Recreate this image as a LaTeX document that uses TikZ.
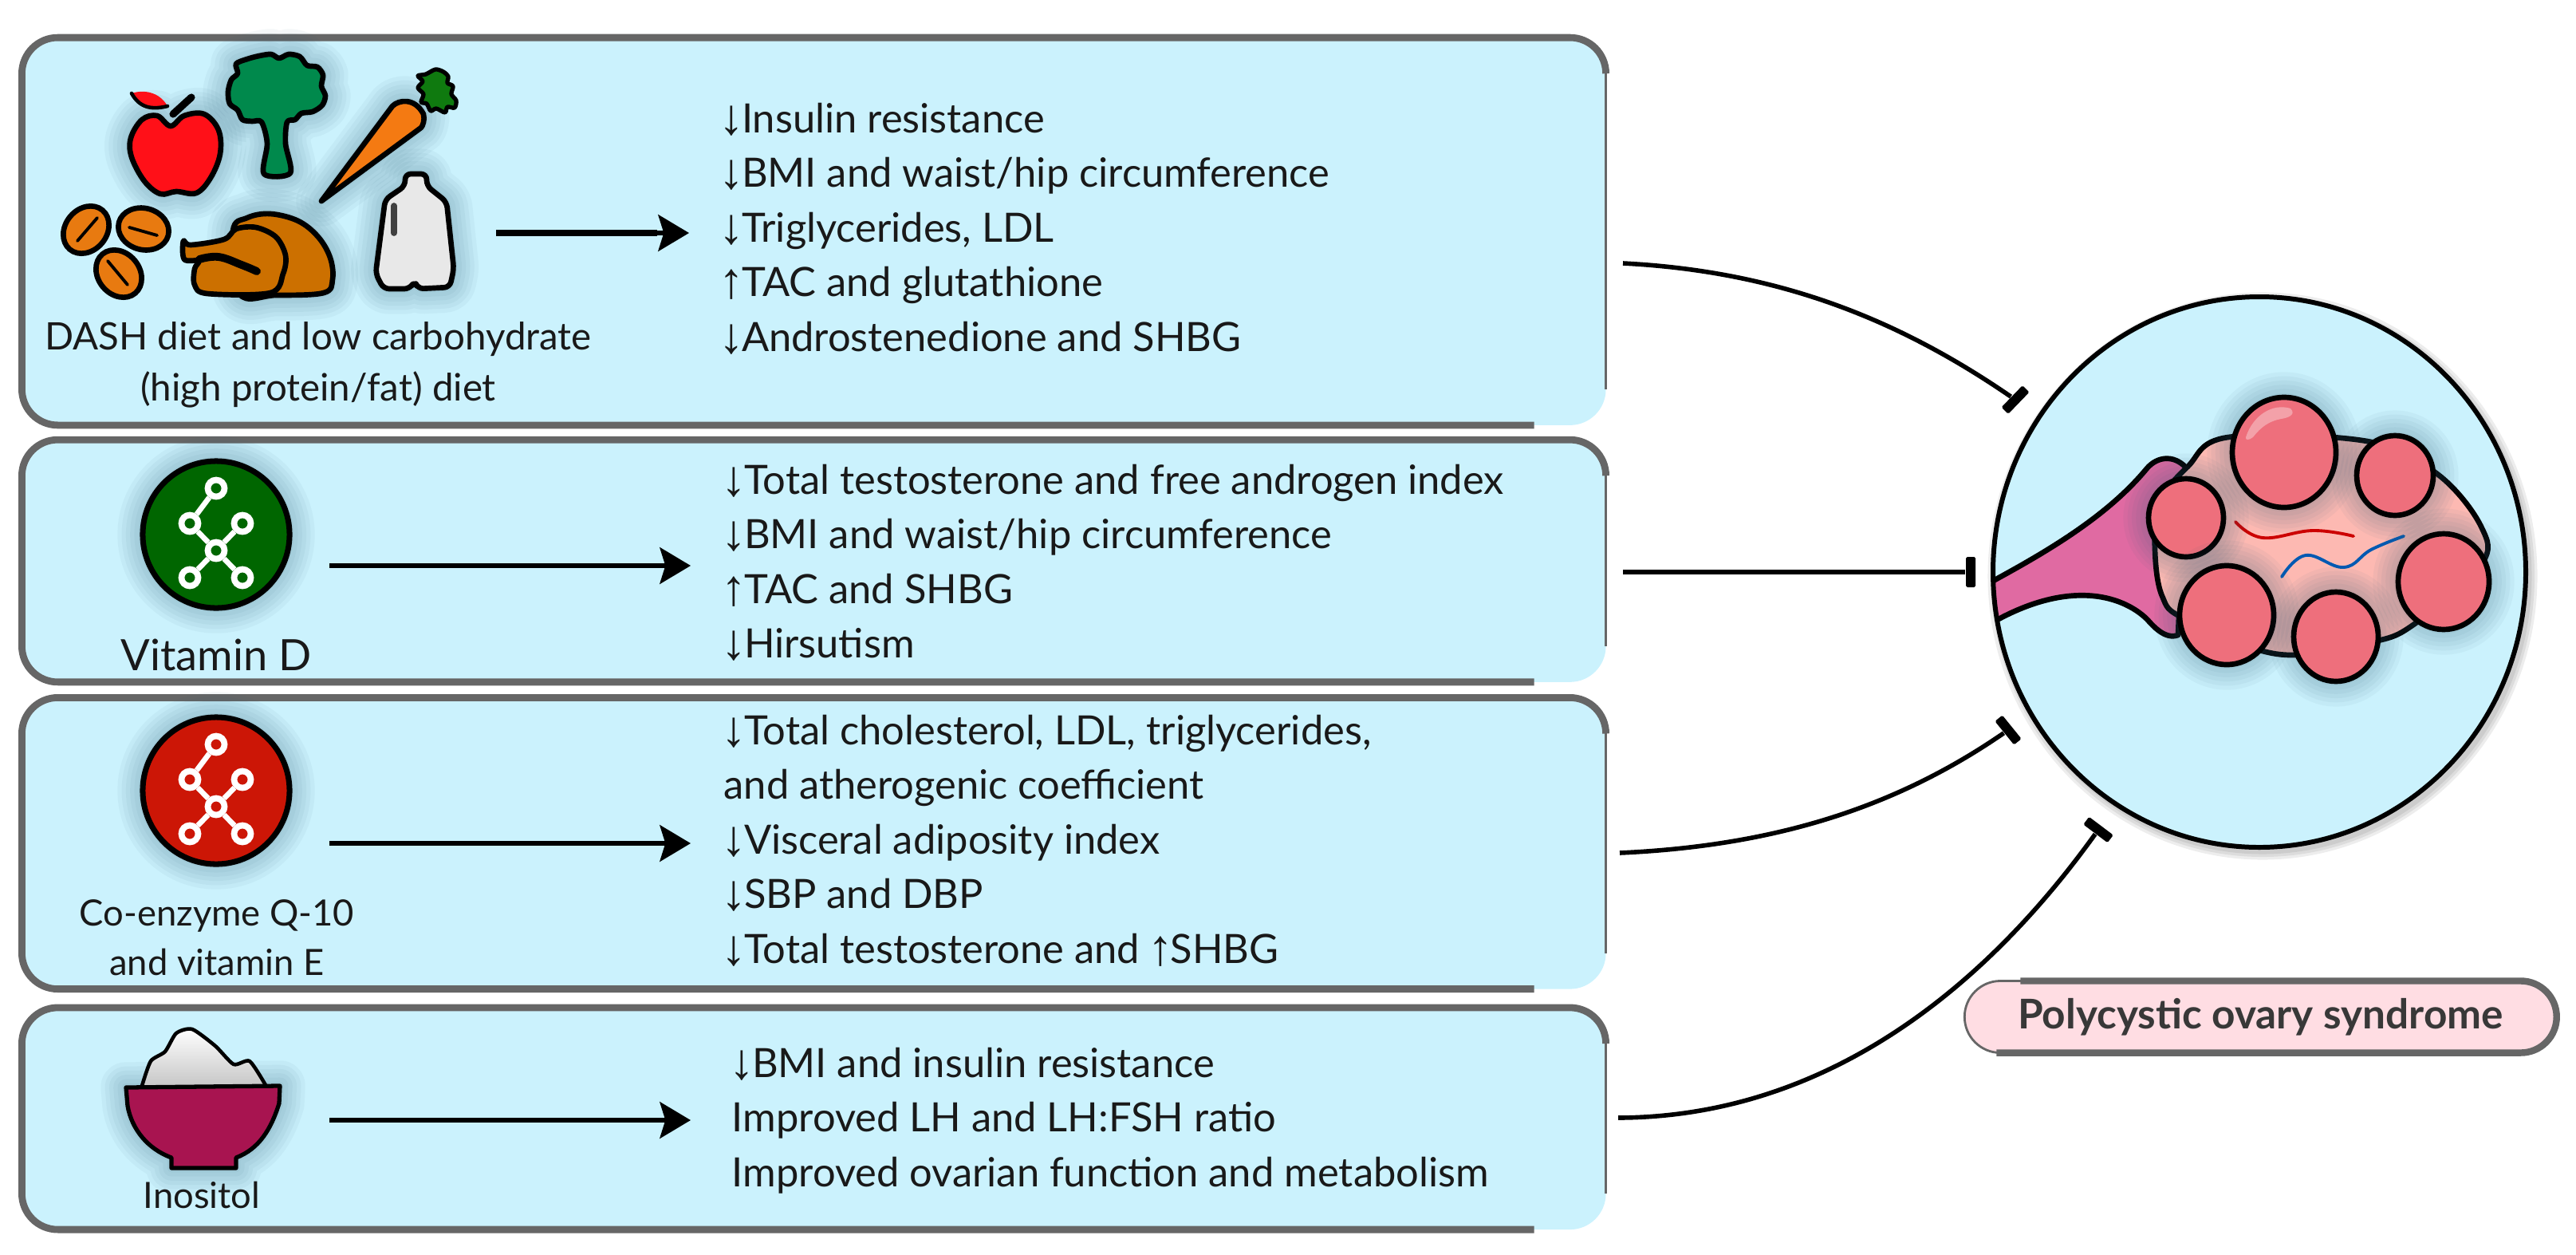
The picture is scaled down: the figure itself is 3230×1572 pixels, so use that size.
\documentclass[tikz,border=0pt]{standalone}
\usepackage{fontspec}
\setmainfont{Lato}
\newfontfamily\arrowfont{Liberation Sans}
\usetikzlibrary{arrows.meta,calc}

\definecolor{panelblue}{HTML}{CBF2FD}
\definecolor{rimgray}{HTML}{666666}
\definecolor{glowcol}{HTML}{2F5F78}
\definecolor{vitgreen}{HTML}{006600}
\definecolor{coqred}{HTML}{CC1606}
\definecolor{folcol}{HTML}{EE6F7C}
\definecolor{bodycol}{HTML}{FDB9B2}
\definecolor{stalkcol}{HTML}{E06AA2}
\definecolor{bowlcol}{HTML}{A81450}
\definecolor{pillcol}{HTML}{FFDDE3}
\definecolor{applecol}{HTML}{FF1018}
\definecolor{broccol}{HTML}{00894C}
\definecolor{leafcol}{HTML}{0F7A0F}
\definecolor{carrotcol}{HTML}{F47A12}
\definecolor{nutcol}{HTML}{E87A10}
\definecolor{turkeycol}{HTML}{CC7000}

\newcommand{\arrsym}[1]{\makebox[7.2pt][c]{\smash{\raisebox{-.6pt}{\fontsize{18pt}{18pt}\arrowfont #1}}}}
\newcommand{\arrdn}{\arrsym{↓}}
\newcommand{\arrup}{\arrsym{↑}}
\newcommand{\glow}[1]{\foreach \w in {3,6,...,18}{\path[draw=glowcol, line width=\w pt, opacity=.05, line join=round] #1;}}

\newcommand{\applepath}{plot[smooth cycle, tension=.6] coordinates {(214,158) (231,145) (256,143) (274,163) (276,193) (264,223) (246,242) (221,240) (201,243) (181,227) (165,197) (164,173) (178,150) (197,145)}}
\newcommand{\brocpath}{plot[smooth cycle, tension=.5] coordinates {(325,70) (340,68) (350,73) (362,68) (376,71) (385,82) (398,84) (405,94) (403,108) (408,120) (404,132) (392,140) (378,142) (370,150) (360,153) (358,180) (364,217) (331,218) (335,180) (328,153) (316,152) (304,150) (298,138) (288,130) (286,115) (290,100) (298,92) (296,80) (310,74)}}
\newcommand{\carrotpath}{(403,252) -- (492,133) .. controls (500,125) and (520,122) .. (531,143) .. controls (533,150) and (530,158) .. (528,160) -- cycle}
\newcommand{\turkeypath}{plot[smooth cycle, tension=.6] coordinates {(292,290) (310,273) (339,268) (374,277) (399,297) (414,323) (417,350) (406,367) (346,370) (300,368)}}
\newcommand{\milkpath}{[rounded corners=.07cm] (508,218) -- (535,218) -- (535,233) -- (560,253) -- (569,337) -- (564,360) -- (524,362) -- (520,352) -- (514,362) -- (481,362) -- (471,343) -- (483,250) -- (508,233) -- cycle}
\newcommand{\bowlpath}{(158,1363) -- (351,1361) -- (350,1383) .. controls (340,1415) and (325,1440) .. (296,1451) -- (296,1464) -- (215,1464) -- (215,1451) .. controls (185,1440) and (165,1415) .. (160,1386) -- cycle}

\tikzset{
  panel/.style={rectangle, fill=panelblue, rounded corners=.45cm, inner sep=0, outer sep=0, minimum width=19.85cm},
  rim/.style={draw=rimgray, line width=2.5pt, rounded corners=.45cm},
  rimthin/.style={draw=rimgray, line width=.8pt},
  icon/.style={draw=black, line width=1.9pt, line join=round, line cap=round},
  vessel/.style={line width=1.1pt, line cap=round},
  feed/.style={line width=1.5pt, -{Stealth[length=11pt, width=13pt, inset=2pt]}},
  block/.style={line width=1.6pt},
  blockbar/.style={rectangle, fill=black, rounded corners=.5pt, inner sep=0, minimum width=.12cm, minimum height=.38cm},
  effects/.style={anchor=north west, inner sep=0, align=left, font=\fontsize{14.4pt}{19.5pt}\selectfont, text=black!90},
  source/.style={inner sep=0, align=center, text=black!90},
  molecule/.style={circle, draw=black, line width=2pt, minimum size=1.84cm, inner sep=0},
  atom/.style={circle, draw=white, line width=2.2pt, minimum size=.21cm, inner sep=0},
}

\begin{document}
\begin{tikzpicture}[x=.01cm, y=-.01cm]
  \useasboundingbox (0,0) rectangle (3230,1572);

  % panels
  \foreach \nm/\cy/\hgt in {diet/290/4.855, vitd/703/3.035, coq/1057/3.65, ino/1402/2.78}{
    \node[panel, minimum height=\hgt cm] (\nm) at (1020.5,\cy) {};
    \draw[rim] ([xshift=-.9cm]\nm.south east) -- (\nm.south west) -- (\nm.north west)
      -- (\nm.north east) -- ([yshift=-.45cm]\nm.north east);
    \draw[rimthin] ([yshift=-.45cm]\nm.north east) -- ([yshift=.45cm]\nm.south east);
  }

  % food icons
  \glow{\applepath}
  \glow{\brocpath}
  \glow{\carrotpath}
  \glow{\turkeypath}
  \glow{\milkpath}
  \draw[icon, line width=2.6pt] (217,143) -- (240,122);
  \path[fill=applecol] (165,117) .. controls (180,112) and (200,115) .. (210,133) .. controls (190,138) and (175,135) .. (165,117) -- cycle;
  \draw[icon, line width=1.3pt] (165,117) .. controls (175,135) and (190,138) .. (210,133);
  \draw[icon, fill=applecol] \applepath;
  \draw[icon, fill=broccol] \brocpath;
  \draw[icon, fill=leafcol, line width=1.5pt] plot[smooth cycle, tension=.5] coordinates {(546,87) (556,90) (562,96) (561,104) (568,108) (566,118) (572,126) (570,135) (561,134) (558,141) (547,136) (540,139) (535,130) (528,128) (531,118) (524,110) (530,102) (524,95) (534,93)};
  \draw[icon, fill=carrotcol] \carrotpath;
  \foreach \cx/\cy/\ang/\xa/\ya/\xb/\yb in {108/288/50/97/302/122/273, 180/287/-15/162/285/197/295, 149/343/-50/135/327/160/357}{
    \draw[icon, fill=nutcol, rotate around={\ang:(\cx,\cy)}] (\cx,\cy) ellipse [x radius=32, y radius=26];
    \draw[icon, line width=1.1pt] (\xa,\ya) -- (\xb,\yb);
  }
  \draw[icon, fill=turkeycol] \turkeypath;
  \draw[icon, fill=turkeycol] plot[smooth cycle, tension=.55] coordinates {(230,302) (239,307) (281,300) (296,287) (321,285) (346,297) (358,320) (355,343) (339,367) (260,368) (244,357) (244,337) (249,327) (231,325)};
  \draw[icon, line width=2.8pt] plot[smooth, tension=.7] coordinates {(250,325) (274,322) (303,332) (322,340)};
  \draw[icon, fill=black!9] \milkpath;
  \draw[line width=2.2pt, draw=black!75, line cap=round] (494,258) -- (494,292);

  % molecule icons
  \foreach \nm/\cx/\cy/\col in {vitd/271/670/vitgreen, coq/271/991/coqred}{
    \glow{(\cx,\cy) circle [radius=92]}
    \node[molecule, fill=\col] (\nm icon) at (\cx,\cy) {};
    \foreach \an/\ax/\ay in {top/0/-58, lft/-33/-14, rgt/33/-14, mid/0/20, bl/-33/54, br/33/54}{
      \node[atom, fill=\col] (\nm\an) at ($(\cx,\cy)+(\ax,\ay)$) {};
    }
    \foreach \p/\q in {top/lft, lft/mid, rgt/mid, mid/bl, mid/br}{
      \draw[white, line width=1.9pt] (\nm\p) -- (\nm\q);
    }
  }

  % bowl
  \glow{\bowlpath}
  \draw[icon, line width=1.3pt, top color=white, bottom color=black!22] plot[smooth, tension=.4] coordinates {(178,1361) (189,1330) (207,1318) (221,1295) (241,1290) (270,1311) (293,1334) (313,1330) (333,1360)};
  \draw[icon, line width=1.5pt, fill=bowlcol] \bowlpath;

  % panel labels
  \node[source, font=\fontsize{13.5pt}{18.2pt}\selectfont, anchor=north] (dietlabel) at (399,403) {DASH diet and low carbohydrate\\(high protein/fat) diet};
  \node[source, font=\fontsize{15.4pt}{18pt}\selectfont, anchor=base] (vitdlabel) at (271,840) {Vitamin D};
  \node[source, font=\fontsize{12.9pt}{17.7pt}\selectfont, anchor=north] (coqlabel) at (272,1127) {Co-enzyme Q-10\\and vitamin E};
  \node[source, font=\fontsize{12.9pt}{14pt}\selectfont, anchor=base] (inolabel) at (253,1514) {Inositol};

  % arrows icon to text
  \foreach \nm/\xa/\xb/\y in {diet/622/864/292, vitd/413/866/709, coq/413/866/1057, ino/413/866/1404}{
    \coordinate (\nm from) at (\xa,\y);
    \coordinate (\nm to) at (\xb,\y);
    \draw[feed] (\nm from) -- (\nm to);
  }
  \draw[line width=2.4pt] (dietfrom) -- ($(dietto)+(-40,0)$);

  % effects
  \node[effects] (dieteff) at (904,128) {\arrdn Insulin resistance\\\arrdn BMI and waist/hip circumference\\\arrdn Triglycerides, LDL\\\arrup TAC and glutathione\\\arrdn Androstenedione and SHBG};
  \node[effects] (vitdeff) at (907,581) {\arrdn Total testosterone and free androgen index\\\arrdn BMI and waist/hip circumference\\\arrup TAC and SHBG\\\arrdn Hirsutism};
  \node[effects] (coqeff) at (907,895) {\arrdn Total cholesterol, LDL, triglycerides,\\and atherogenic coefficient\\\arrdn Visceral adiposity index\\\arrdn SBP and DBP\\\arrdn Total testosterone and \arrup SHBG};
  \node[effects] (inoeff) at (917,1312) {\arrdn BMI and insulin resistance\\Improved LH and LH:FSH ratio\\Improved ovarian function and metabolism};

  % ovary
  \foreach \w in {2,4,6}{\path[draw=black, opacity=.07, line width=\w pt] (2837,722) ellipse [x radius=334, y radius=345];}
  \fill[panelblue] (2833,717) ellipse [x radius=334, y radius=345];
  \begin{scope}
    \clip (2833,717) ellipse [x radius=334, y radius=345];
    \draw[icon, fill=stalkcol] (2490,733) .. controls (2560,695) and (2640,650) .. (2692,587)
      .. controls (2705,572) and (2725,570) .. (2740,585) -- (2731,796)
      .. controls (2715,802) and (2700,785) .. (2692,776)
      .. controls (2660,745) and (2590,725) .. (2490,785) -- cycle;
  \end{scope}
  \draw[draw=black, line width=1.7pt] (2833,717) ellipse [x radius=334, y radius=345];
  \draw[icon, fill=bodycol] plot[smooth cycle, tension=.6] coordinates {(2743,585) (2794,548) (2968,553) (3056,594) (3111,660) (3111,708) (3029,781) (2973,805) (2857,820) (2740,776) (2711,747) (2702,689) (2707,631)};
  \draw[vessel, draw=red!80!black] plot[smooth, tension=.7] coordinates {(2803,654) (2837,674) (2900,665) (2951,672)};
  \draw[vessel, draw=blue!50!cyan!70!black] plot[smooth, tension=.7] coordinates {(2861,723) (2891,696) (2939,711) (2973,689) (3014,672)};
  \foreach \cx/\cy/\rx/\ry in {2864/567/65/69, 3003/596/48/50, 2741/649/47/49, 3064/729/57/60, 2792/771/59/62, 2929/798/53/56}{
    \glow{(\cx,\cy) ellipse [x radius=\rx, y radius=\ry]}
    \draw[icon, fill=folcol] (\cx,\cy) ellipse [x radius=\rx, y radius=\ry];
  }
  \fill[white, opacity=.35] (2816,548) .. controls (2825,520) and (2850,505) .. (2872,512) .. controls (2880,520) and (2868,524) .. (2860,525) .. controls (2845,528) and (2835,535) .. (2825,548) .. controls (2820,552) and (2815,552) .. (2816,548) -- cycle;

  % inhibition connectors
  \node[blockbar, rotate=-44] (bardiet) at (2527,501) {};
  \node[blockbar] (barvitd) at (2471,717) {};
  \node[blockbar, rotate=39] (barcoq) at (2518,915) {};
  \node[blockbar, rotate=53] (barino) at (2631,1040) {};
  \coordinate (dietout) at (2035,330);
  \coordinate (vitdout) at (2035,717);
  \coordinate (coqout) at (2031,1069);
  \coordinate (inoout) at (2029,1401);
  \draw[block] (dietout) .. controls (2230,340) and (2380,400) .. (bardiet);
  \draw[block] (vitdout) -- (barvitd);
  \draw[block] (coqout) .. controls (2230,1060) and (2380,1010) .. (barcoq);
  \draw[block] (inoout) .. controls (2280,1400) and (2480,1250) .. (barino);

  % title pill
  \node[panel, fill=pillcol, draw=rimgray, line width=.8pt, minimum width=7.42cm, minimum height=.9cm, font=\fontsize{14.6pt}{16pt}\selectfont\bfseries, text=black!78, rounded corners=.45cm] (pill) at (2834.5,1274.5) {Polycystic ovary syndrome};
  \draw[draw=rimgray, line width=2.4pt, rounded corners=.45cm] ([xshift=.7cm]pill.north west) -- (pill.north east) -- (pill.south east) -- ([xshift=.4cm]pill.south west);
\end{tikzpicture}
\end{document}
